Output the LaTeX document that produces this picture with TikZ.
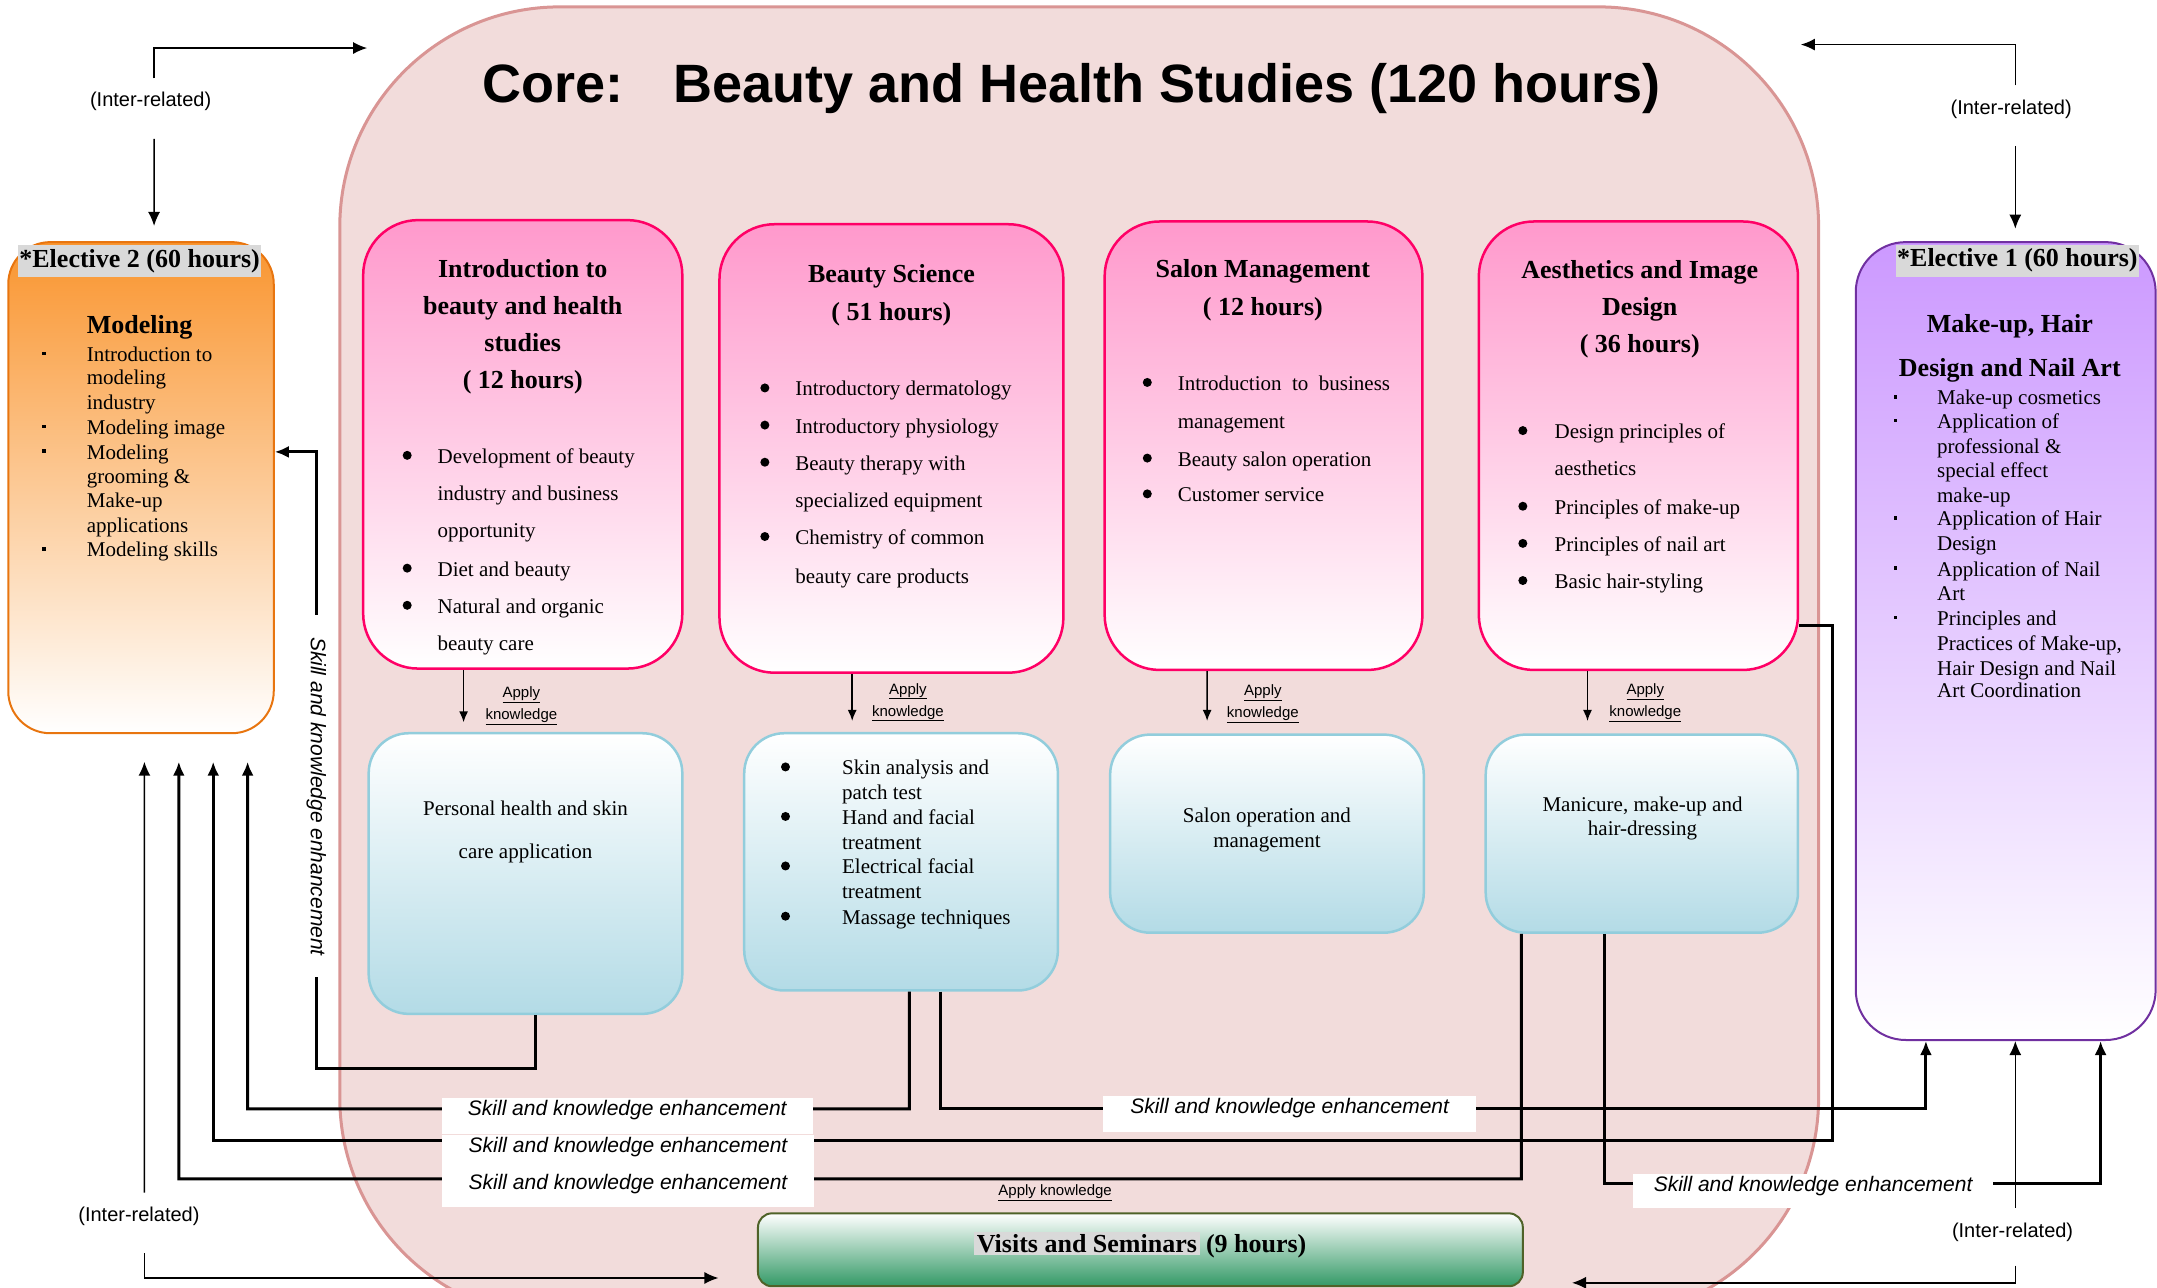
\documentclass[tikz,border=0pt]{standalone}
\usepackage{fontspec}
\setmainfont{Liberation Serif}
\newfontfamily\arialf{Liberation Sans}
\usetikzlibrary{arrows.meta,calc,fit}
\definecolor{corefill}{HTML}{F2DCDB}
\definecolor{coredraw}{HTML}{D99594}
\definecolor{pinktop}{HTML}{FF99CC}
\definecolor{pinkdraw}{HTML}{FF0066}
\definecolor{bluebot}{HTML}{B3DBE6}
\definecolor{bluedraw}{HTML}{92CDDC}
\definecolor{orgtop}{HTML}{F9952F}
\definecolor{orgdraw}{HTML}{E8750F}
\definecolor{purtop}{HTML}{CC99FF}
\definecolor{purdraw}{HTML}{7030A0}
\definecolor{grnbot}{HTML}{339966}
\definecolor{grndraw}{HTML}{4F6228}
\definecolor{hl}{HTML}{D9D9D9}
\setlength{\fboxsep}{2.5pt}
\begin{document}
\begin{tikzpicture}[x=1.3756pt,y=-1.3756pt,
  corebox/.style={draw=coredraw,fill=corefill,line width=3pt,rounded corners=220pt,inner sep=0},
  pinkbox/.style={draw=pinkdraw,line width=2.5pt,top color=pinktop,bottom color=white,rounded corners=55pt,inner sep=0},
  bluebox/.style={draw=bluedraw,line width=2.5pt,top color=white,bottom color=bluebot,rounded corners=40pt,inner sep=0},
  orgbox/.style={draw=orgdraw,line width=2pt,top color=orgtop,bottom color=white,rounded corners=42pt,inner sep=0},
  purbox/.style={draw=purdraw,line width=2pt,top color=purtop,bottom color=white,rounded corners=50pt,inner sep=0},
  grnbox/.style={draw=grndraw,line width=2pt,top color=white,bottom color=grnbot,rounded corners=14pt,inner sep=0},
  hd/.style={font=\bfseries\fontsize{26}{30}\selectfont,inner sep=0,text height=23.5pt,text depth=6pt},
  bt/.style={font=\fontsize{21}{25}\selectfont,inner sep=0,text height=21pt,text depth=5pt},
  bul/.style={circle,fill=black,minimum size=9pt,inner sep=0},
  sqb/.style={rectangle,fill=black,minimum size=3.5pt,inner sep=0},
  elab/.style={font=\bfseries\fontsize{26}{30}\selectfont,text height=19pt,text depth=7pt,fill=hl,inner xsep=1pt,inner ysep=3pt},
  irt/.style={font=\arialf\fontsize{20}{24}\selectfont,inner sep=0},
  akt/.style={font=\arialf\fontsize{15}{22}\selectfont,inner sep=0,align=center},
  skt/.style={font=\arialf\itshape\fontsize{21}{25}\selectfont,inner sep=0},
  skbox/.style={skt,fill=white,text height=15pt,text depth=15pt,minimum height=36pt},
  skl/.style={line width=3pt},
  skla/.style={skl,-{Latex[length=14pt,width=12pt]}},
  irla/.style={line width=1.5pt,-{Latex[length=14pt,width=12pt]}},
  akl/.style={line width=1.5pt,-{Latex[length=11pt,width=9pt]}},
]
\useasboundingbox (0,0) rectangle (1568,936);

% ---------- core ----------
\node[corebox,fit={(247,5) (1322,958)}] (core) {};
\node[font=\arialf\bfseries\fontsize{54}{60}\selectfont,inner sep=0] (title) at (779,64.5)
  {Core:\hspace{50pt}Beauty and Health Studies (120 hours)};

% ---------- boxes ----------
\node[orgbox,fit={(6,176) (199,533)}] (E2) {};
\node[purbox,fit={(1349,176) (1567,756)}] (E1) {};
\node[pinkbox,fit={(264,160) (496,486)}] (A) {};
\node[pinkbox,fit={(523,163) (773,489)}] (B) {};
\node[pinkbox,fit={(803,161) (1034,487)}] (C) {};
\node[pinkbox,fit={(1075,161) (1307,487)}] (D) {};
\node[bluebox,fit={(268,533) (496,737)}] (A2) {};
\node[bluebox,fit={(541,533) (769,720)}] (B2) {};
\node[bluebox,fit={(807,534) (1035,678)}] (C2) {};
\node[bluebox,fit={(1080,534) (1307,678)}] (D2) {};
\node[grnbox,fit={(551,882) (1107,935)}] (V) {};

% ---------- elective 2 ----------
\node[elab] (E2lab) at (101.5,190) {*Elective 2 (60 hours)};
\node[hd,anchor=west] (E2h) at (63,236) {Modeling};
\foreach \t/\y [count=\i] in {Introduction to/257, modeling/274, industry/292, Modeling image/310, Modeling/328, grooming \&/346, Make-up/363, applications/381, Modeling skills/399}
  \node[bt,anchor=west] (E2t\i) at (63,\y) {\t};
\foreach \y [count=\i] in {257,310,328,399}
  \node[sqb] (E2b\i) at (32,\y) {};

% ---------- elective 1 ----------
\node[elab] (E1lab) at (1466.5,189.5) {*Elective 1 (60 hours)};
\node[hd] (E1h1) at (1461,235) {Make-up, Hair};
\node[hd] (E1h2) at (1461,267) {Design and Nail Art};
\foreach \t/\y [count=\i] in {Make-up cosmetics/288.5, Application of/305.5, professional \&/323.5, special effect/341, make-up/359.5, Application of Hair/376.5, Design/394.5, Application of Nail/413, Art/431, Principles and/449, {Practices of Make-up,}/467, Hair Design and Nail/485, Art Coordination/501.5}
  \node[bt,anchor=west] (E1t\i) at (1408,\y) {\t};
\foreach \y [count=\i] in {288.5,305.5,376.5,413,449}
  \node[sqb] (E1b\i) at (1378,\y) {};

% ---------- pink box A ----------
\foreach \t/\y [count=\i] in {Introduction to/195, beauty and health/222, studies/249, {( 12 hours)}/276}
  \node[hd] (Ah\i) at (380,\y) {\t};
\foreach \t/\y [count=\i] in {Development of beauty/331, industry and business/358, opportunity/385, Diet and beauty/413, Natural and organic/440, beauty care/467}
  \node[bt,anchor=west] (At\i) at (318,\y) {\t};
\foreach \y [count=\i] in {331,413,440}
  \node[bul] (Ab\i) at (296,\y) {};

% ---------- pink box B ----------
\foreach \t/\y [count=\i] in {Beauty Science/199, {( 51 hours)}/226.5}
  \node[hd] (Bh\i) at (648,\y) {\t};
\foreach \t/\y [count=\i] in {Introductory dermatology/282, Introductory physiology/309, Beauty therapy with/336, specialized equipment/363, Chemistry of common/390, beauty care products/418}
  \node[bt,anchor=west] (Bt\i) at (578,\y) {\t};
\foreach \y [count=\i] in {282,309,336,390}
  \node[bul] (Bb\i) at (556,\y) {};

% ---------- pink box C ----------
\foreach \t/\y [count=\i] in {Salon Management/195, {( 12 hours)}/223}
  \node[hd] (Ch\i) at (918,\y) {\t};
\foreach \t/\y [count=\i] in {Introduction\ \ to\ \ business/278, management/306, Beauty salon operation/333, Customer service/359}
  \node[bt,anchor=west] (Ct\i) at (856,\y) {\t};
\foreach \y [count=\i] in {278,333,359}
  \node[bul] (Cb\i) at (834,\y) {};

% ---------- pink box D ----------
\foreach \t/\y [count=\i] in {Aesthetics and Image/196, Design/223, {( 36 hours)}/250}
  \node[hd] (Dh\i) at (1192,\y) {\t};
\foreach \t/\y [count=\i] in {Design principles of/313, aesthetics/340, Principles of make-up/368, Principles of nail art/395, Basic hair-styling/422}
  \node[bt,anchor=west] (Dt\i) at (1130,\y) {\t};
\foreach \y [count=\i] in {313,368,395,422}
  \node[bul] (Db\i) at (1107,\y) {};

% ---------- blue boxes ----------
\node[bt] (A2t1) at (382,587) {Personal health and skin};
\node[bt] (A2t2) at (382,618) {care application};
\foreach \t/\y [count=\i] in {Skin analysis and/557.5, patch test/575.5, Hand and facial/593.5, treatment/612, Electrical facial/629.5, treatment/647.5, Massage techniques/666}
  \node[bt,anchor=west] (B2t\i) at (612,\y) {\t};
\foreach \y [count=\i] in {557.5,593.5,629.5,666}
  \node[bul] (B2b\i) at (571,\y) {};
\node[bt] (C2t1) at (921,592) {Salon operation and};
\node[bt] (C2t2) at (921,610) {management};
\node[bt] (D2t1) at (1194,584) {Manicure, make-up and};
\node[bt] (D2t2) at (1194,601.5) {hair-dressing};

% ---------- visits ----------
\node[font=\bfseries\fontsize{26}{30}\selectfont,inner sep=0] (Vt) at (829,905) {\colorbox{hl}{Visits and Seminars} (9 hours)};

% ---------- apply knowledge ----------
\draw[akl] ($(A.south)+(-43,0)$) -- ($(A2.north)+(-45,-7)$);
\draw[akl] ($(B.south)+(-28.5,0)$) -- ($(B2.north)+(-35.5,-8)$);
\draw[akl] ($(C.south)+(-41,0)$) -- ($(C2.north)+(-43.5,-9)$);
\draw[akl] ($(D.south)+(-37,0)$) -- ($(D2.north)+(-39.5,-9)$);
\node[akt] (akA) at (379,513) {\underline{Apply}\\\underline{knowledge}};
\node[akt] (akB) at (660,510.5) {\underline{Apply}\\\underline{knowledge}};
\node[akt] (akC) at (918,511.5) {\underline{Apply}\\\underline{knowledge}};
\node[akt] (akD) at (1196,511) {\underline{Apply}\\\underline{knowledge}};
\node[akt] (akV) at (767,867) {\underline{Apply knowledge}};

% ---------- skill and knowledge enhancement ----------
\draw[skl] ($(A2.south)+(7,0)$) |- (230,776.5) -- (230,710);
\draw[skla] (230,447) |- ($(E2.east)+(0,-26)$);
\node[skt,rotate=-90] (sk1) at (230,579) {Skill and knowledge enhancement};

\draw[skla] ($(B2.south)+(6,0)$) |- (180,806) -- ($(E2.south)+(77.5,20)$);
\draw[skla] ($(B2.south)+(28.5,0)$) |- (1400,805.5) -- ($(E1.south)+(-58,0)$);
\draw[skla] ($(D.east)+(0,131)$) -| (1332,829) -| ($(E2.south)+(52.5,20)$);
\draw[skla] ($(D2.south)+(-87.5,0)$) |- (130,857) -- ($(E2.south)+(27.5,20)$);
\draw[skla] ($(D2.south)+(-27,0)$) |- (1527,860) -- ($(E1.south)+(69,0)$);

\node[skbox,minimum width=371pt] (sk2) at (456,811) {Skill and knowledge enhancement};
\node[skbox,minimum width=372pt] (sk3) at (456.5,838) {Skill and knowledge enhancement};
\node[skbox,minimum width=372pt] (sk4) at (456.5,864.5) {Skill and knowledge enhancement};
\node[skbox,minimum width=373pt] (sk5) at (937.5,809.5) {Skill and knowledge enhancement};
\node[skbox,minimum width=360pt,minimum height=34pt] (sk6) at (1318,866) {Skill and knowledge enhancement};

% ---------- inter-related ----------
\draw[irla] (112,57) |- ($(core.north west)+(21,31)$);
\draw[irla] (112,101) -- ($(E2.north)+(9.5,-11)$);
\node[irt] (irTL) at (109.5,73.5) {(Inter-related)};

\draw[irla] (1465,62) |- ($(core.north east)+(-14,28.5)$);
\draw[irla] (1465,106) -- ($(E1.north)+(7,-9)$);
\node[irt] (irTR) at (1462,79.5) {(Inter-related)};

\draw[irla] (105,867) -- ($(E2.south)+(2.5,20)$);
\draw[irla] (105,911) |- ($(V.west)+(-28,20.5)$);
\node[irt] (irBL) at (101,884.5) {(Inter-related)};

\draw[irla] (1465,878) -- ($(E1.south)+(7,0)$);
\draw[irla] (1465,920) |- ($(V.east)+(35,24)$);
\node[irt] (irBR) at (1463,895.5) {(Inter-related)};
\end{tikzpicture}
\end{document}
